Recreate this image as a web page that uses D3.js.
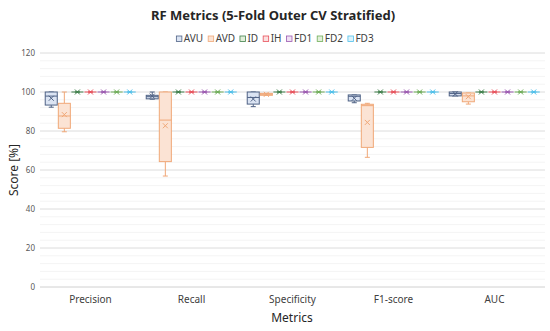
<html>
<head>
  <meta charset="utf-8" />
  <script src="https://cdnjs.cloudflare.com/ajax/libs/d3/7.8.5/d3.min.js"></script>
  <style>
    body { margin: 0; background: #fff; }
    text { font-family: "Noto Sans", "Open Sans", sans-serif; }
  </style>
</head>
<body>
  <svg id="chart" width="550" height="331"></svg>
  <script>
  // categories and series
  var metrics = ["Precision", "Recall", "Specificity", "F1-score", "AUC"]
  var series = ["AVU", "AVD", "ID", "IH", "FD1", "FD2", "FD3"]
  var yTicks = [0, 20, 40, 60, 80, 100, 120]

  // [min, q1, median, q3, max, mean] per metric
  var avuStats = [
    [92.2, 93.3, 97.9, 100, 100, 96.8],
    [96.3, 96.5, 97.6, 98.3, 100, 97.9],
    [92.5, 93.8, 97.2, 100, 100, 96.4],
    [94.5, 95.4, 97.8, 98.5, 98.5, 96.8],
    [98.0, 98.0, 99.2, 100, 100, 99.0]
  ]
  var avdStats = [
    [79.6, 81.4, 87.7, 94.2, 100, 88.4],
    [56.9, 64.3, 85.6, 100, 100, 82.7],
    [98.3, 98.3, 98.8, 99.3, 99.3, 98.8],
    [66.5, 71.6, 93.0, 93.7, 94.2, 84.4],
    [93.8, 95.0, 98.0, 99.5, 99.5, 97.6]
  ]
  var perfectStats = [100, 100, 100, 100, 100, 100]

  var strokeColors = ["#4f6285", "#f0a878", "#3f7f4a", "#e8505b", "#9b59b0", "#6fad58", "#4fc0ea"]
  var fillColors = ["#dbe4f3", "#fbe3d4", "#e2efda", "#fbe0e0", "#efe0f3", "#e2efda", "#ddf2fb"]

  var svg = d3.select("#chart")

  var x = d3.scaleBand().domain(metrics).range([40, 545])
  var xs = d3.scaleBand().domain(series).range([0, x.bandwidth()])
             .paddingInner(0.08).paddingOuter(0.4)
  var y = d3.scaleLinear().domain([0, 120]).range([287, 53])

  // minor grid
  svg.append("g").selectAll("line")
    .data(d3.range(0, 121, 4).filter(v => v % 20 != 0))
    .join("line")
      .attr("x1", 40).attr("x2", 545)
      .attr("y1", d => y(d)).attr("y2", d => y(d))
      .attr("stroke", "#f4f4f4").attr("stroke-width", 1)

  // major grid
  svg.append("g").selectAll("line")
    .data(yTicks.filter(v => v > 0))
    .join("line")
      .attr("x1", 40).attr("x2", 545)
      .attr("y1", d => y(d)).attr("y2", d => y(d))
      .attr("stroke", "#dcdcdc").attr("stroke-width", 1)

  svg.append("line")
    .attr("x1", 40).attr("x2", 545)
    .attr("y1", y(0)).attr("y2", y(0))
    .attr("stroke", "#d0d0d0")

  // y labels
  svg.append("g").selectAll("text")
    .data(yTicks)
    .join("text")
      .attr("x", 35).attr("y", d => y(d) + 3)
      .attr("text-anchor", "end")
      .attr("font-size", 8)
      .attr("fill", "#595959")
      .text(d => d)

  // x labels
  svg.append("g").selectAll("text")
    .data(metrics)
    .join("text")
      .attr("x", d => x(d) + x.bandwidth() / 2).attr("y", 303)
      .attr("text-anchor", "middle")
      .attr("font-size", 10)
      .attr("fill", "#404040")
      .text(d => d)

  // boxes
  function statsFor(si, mi) {
    if (si == 0) return avuStats[mi]
    if (si == 1) return avdStats[mi]
    return perfectStats
  }

  metrics.forEach((m, mi) => {
    series.forEach((s, si) => {
      var st = statsFor(si, mi)
      var x0 = x(m) + xs(s)
      var w = xs.bandwidth()
      var cx = x0 + w / 2
      var g = svg.append("g")
      var col = strokeColors[si]
      // whiskers
      g.append("line").attr("x1", cx).attr("x2", cx)
        .attr("y1", y(st[0])).attr("y2", y(st[1])).attr("stroke", col)
      g.append("line").attr("x1", cx).attr("x2", cx)
        .attr("y1", y(st[3])).attr("y2", y(st[4])).attr("stroke", col)
      ;[st[0], st[4]].forEach(v => {
        g.append("line").attr("x1", cx - 2.5).attr("x2", cx + 2.5)
          .attr("y1", y(v)).attr("y2", y(v)).attr("stroke", col)
      })
      // box
      g.append("rect")
        .attr("x", x0).attr("width", w)
        .attr("y", y(st[3])).attr("height", y(st[1]) - y(st[3]))
        .attr("fill", fillColors[si]).attr("stroke", col).attr("stroke-width", 1)
      g.append("line").attr("x1", x0).attr("x2", x0 + w)
        .attr("y1", y(st[2])).attr("y2", y(st[2])).attr("stroke", col)
      // mean marker
      var my = y(st[5])
      g.append("path")
        .attr("d", `M${cx - 2.5},${my - 2.5}L${cx + 2.5},${my + 2.5}M${cx - 2.5},${my + 2.5}L${cx + 2.5},${my - 2.5}`)
        .attr("stroke", col).attr("stroke-width", 1).attr("fill", "none")
    })
  })

  // title
  svg.append("text")
    .attr("x", 273).attr("y", 20)
    .attr("text-anchor", "middle")
    .attr("font-size", 13).attr("font-weight", "bold")
    .attr("fill", "#262626")
    .text("RF Metrics (5-Fold Outer CV Stratified)")

  // legend
  var legend = svg.append("g")
  var lx = 0
  series.forEach((s, si) => {
    var item = legend.append("g").attr("transform", `translate(${lx},0)`)
    item.append("rect").attr("x", 0).attr("y", -6).attr("width", 5.5).attr("height", 5.5)
      .attr("fill", fillColors[si]).attr("stroke", strokeColors[si]).attr("stroke-width", 0.8)
    var t = item.append("text").attr("x", 7.5).attr("y", 0)
      .attr("font-size", 10).attr("fill", "#404040").text(s)
    lx += 7.5 + t.node().getComputedTextLength() + 5
  })
  legend.attr("transform", `translate(${275 - (lx - 5) / 2},42)`)

  // axis titles
  svg.append("text")
    .attr("transform", "translate(18,170) rotate(-90)")
    .attr("text-anchor", "middle")
    .attr("font-size", 12).attr("fill", "#262626")
    .text("Score [%]")

  svg.append("text")
    .attr("x", 292).attr("y", 322)
    .attr("text-anchor", "middle")
    .attr("font-size", 12).attr("fill", "#262626")
    .text("Metrics")
  </script>
</body>
</html>
